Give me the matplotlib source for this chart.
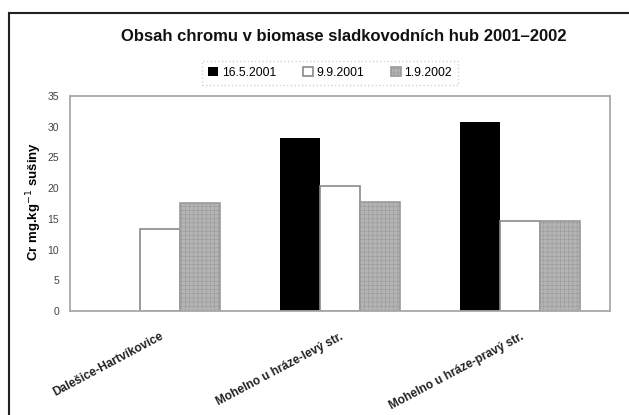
import matplotlib.pyplot as plt
import numpy as np
from matplotlib.lines import Line2D

plt.rcParams['font.family'] = ['Liberation Sans', 'DejaVu Sans']
plt.rcParams['hatch.color'] = '#a8a8a8'
plt.rcParams['hatch.linewidth'] = 0.4

# Chromium content per site and sampling date
sites = ['Dalešice-Hartvíkovice', 'Mohelno u hráze-levý str.', 'Mohelno u hráze-pravý str.']
dates = ['16.5.2001', '9.9.2001', '1.9.2002']
cr_2001_may = [0, 28.2, 30.8]
cr_2001_sep = [13.4, 20.3, 14.6]
cr_2002_sep = [17.6, 17.7, 14.7]
yticks = [0, 5, 10, 15, 20, 25, 30, 35]

fig = plt.figure(figsize=(6.29, 4.15), dpi=100)
ax = fig.add_axes([0.1113, 0.2506, 0.8585, 0.518])

x = np.arange(len(sites))
w = 1 / 4.5
styles = [
    dict(color='black', linewidth=0),
    dict(color='white', edgecolor='#8a8a8a', linewidth=1.2),
    dict(color='#b4b4b4', edgecolor='#9a9a9a', hatch='++++', linewidth=1.2),
]
for i, (vals, st) in enumerate(zip([cr_2001_may, cr_2001_sep, cr_2002_sep], styles)):
    ax.bar(x + (i - 1) * w, vals, w, label=dates[i], **st)

ax.set_xlim(-0.5, 2.5)
ax.set_ylim(0, 35)
ax.set_yticks(yticks)
ax.set_yticklabels([str(t) for t in yticks], fontsize=7.5, color='#444444')
ax.set_xticks(x)
ax.set_xticklabels(sites, rotation=28, ha='right', rotation_mode='anchor',
                   fontsize=8.6, fontweight='bold', color='#222222')
ax.tick_params(axis='y', length=0, pad=8)
ax.tick_params(axis='x', length=0, pad=14)
for s in ax.spines.values():
    s.set_color('#a8a8a8')
    s.set_linewidth(1.3)

ax.set_ylabel('Cr mg.kg$^{-1}$ sušiny', fontsize=9.5, fontweight='bold')
ax.yaxis.set_label_coords(-0.048, 0.51)

fig.text(0.547, 0.913, 'Obsah chromu v biomase sladkovodních hub 2001–2002',
         ha='center', va='center', fontsize=12, fontweight='bold', color='#111111')

leg = fig.legend(loc='center', bbox_to_anchor=(0.525, 0.824), ncol=3,
                 fontsize=8.8, frameon=True, handlelength=0.8, handleheight=0.8,
                 handletextpad=0.3, columnspacing=2.2, borderpad=0.5)
leg.get_frame().set_edgecolor('#c8c8c8')
leg.get_frame().set_linestyle(':')
leg.get_frame().set_boxstyle('square', pad=0)

# outer frame (left and top edges)
fig.add_artist(Line2D([9 / 629, 9 / 629], [0, 1 - 13 / 415], color='#222222', lw=1.5))
fig.add_artist(Line2D([9 / 629, 1], [1 - 13 / 415, 1 - 13 / 415], color='#222222', lw=1.5))

fig.savefig('out.png', dpi=100)
